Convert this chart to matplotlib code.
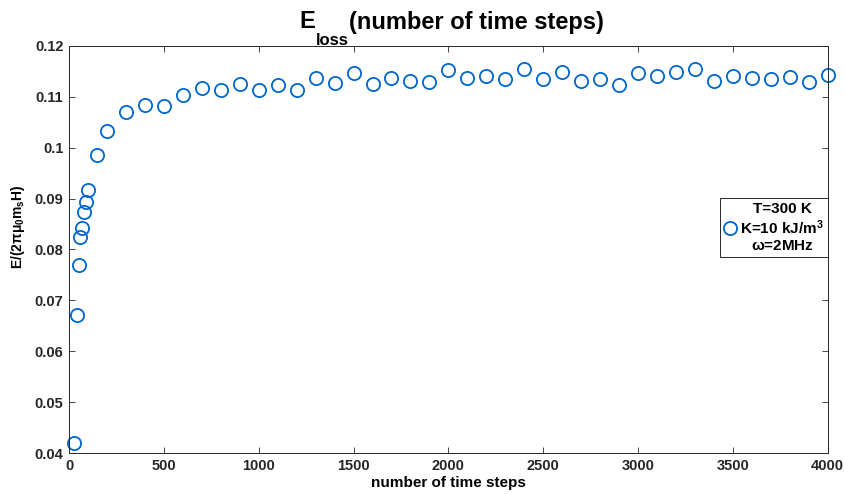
import numpy as np
import matplotlib
matplotlib.use('Agg')
import matplotlib.pyplot as plt
from matplotlib.transforms import offset_copy

plt.rcParams['font.family'] = ['Liberation Sans', 'DejaVu Sans']
plt.rcParams['font.weight'] = 'bold'
plt.rcParams['mathtext.fontset'] = 'custom'
plt.rcParams['mathtext.rm'] = 'Liberation Sans:bold'
plt.rcParams['mathtext.it'] = 'Liberation Sans:bold'
plt.rcParams['mathtext.bf'] = 'Liberation Sans:bold'

# number of time steps
steps = [25, 40, 50, 60, 70, 80, 90, 100, 150,
         200, 300, 400, 500, 600, 700, 800, 900, 1000,
         1100, 1200, 1300, 1400, 1500, 1600, 1700, 1800, 1900, 2000,
         2100, 2200, 2300, 2400, 2500, 2600, 2700, 2800, 2900, 3000,
         3100, 3200, 3300, 3400, 3500, 3600, 3700, 3800, 3900, 4000]
# normalised energy loss
e_loss = [0.0420, 0.0671, 0.0770, 0.0825, 0.0842, 0.0874, 0.0894, 0.0917, 0.0985,
          0.1033, 0.1069, 0.1083, 0.1082, 0.1103, 0.1116, 0.1114, 0.1125, 0.1114,
          0.1122, 0.1114, 0.1136, 0.1126, 0.1146, 0.1124, 0.1136, 0.1131, 0.1129, 0.1152,
          0.1136, 0.1141, 0.1135, 0.1155, 0.1134, 0.1148, 0.1131, 0.1135, 0.1123, 0.1146,
          0.1141, 0.1148, 0.1155, 0.1131, 0.1141, 0.1137, 0.1134, 0.1139, 0.1129, 0.1143]

xticks = [0, 500, 1000, 1500, 2000, 2500, 3000, 3500, 4000]
yticks = [0.04, 0.05, 0.06, 0.07, 0.08, 0.09, 0.1, 0.11, 0.12]
ytick_labels = ['0.04', '0.05', '0.06', '0.07', '0.08', '0.09', '0.1', '0.11', '0.12']

label = 'T=300 K\nK=10 kJ/m$^3$\n$\\omega$=2MHz'

fig = plt.figure(figsize=(8.44, 4.94), dpi=100)
ax = fig.add_axes([0.0818, 0.0824, 0.8989, 0.8251])

ax.plot(steps, e_loss, 'o', ls='none', mfc='none', mec='#0066CC',
        ms=9.5, mew=1.3, label=label, clip_on=False)

ax.set_xlim(0, 4000)
ax.set_ylim(0.04, 0.12)
ax.set_xticks(xticks)
ax.set_yticks(yticks)
ax.set_yticklabels(ytick_labels)
ax.tick_params(direction='in', top=True, right=True, length=4, width=0.6,
               labelsize=10.5, colors='#262626', pad=4)
for s in ax.spines.values():
    s.set_linewidth(0.7)
    s.set_color('#262626')

ax.set_xlabel('number of time steps', fontsize=11, fontweight='bold', labelpad=2)
ax.set_ylabel('E/(2$\\pi\\mu_0$m$_s$H)', fontsize=10, fontweight='bold')
ax.yaxis.set_label_coords(-0.055, 0.555)

# title built in pieces so the subscript sits low like the original
r = fig.canvas.get_renderer()
base_y = 1 - 28.5 / 494
t1 = fig.text(299 / 844, base_y, 'E', fontsize=17, fontweight='bold', va='baseline')
w1 = t1.get_window_extent(r).width
t2 = fig.text(299 / 844, base_y, 'loss', fontsize=12, fontweight='bold', va='baseline',
              transform=offset_copy(fig.transFigure, fig=fig, x=w1 + 1, y=-16.5,
                                    units='dots'))
w2 = t2.get_window_extent(r).width
t3 = fig.text(299 / 844, base_y, '(number of time steps)', fontsize=17,
              fontweight='bold', va='baseline',
              transform=offset_copy(fig.transFigure, fig=fig, x=w1 + w2 + 1, y=0,
                                    units='dots'))

leg = ax.legend(loc='center right', bbox_to_anchor=(1.0, 0.554), borderaxespad=0,
                fontsize=11, numpoints=1, handlelength=0.8, handletextpad=0.25,
                borderpad=0.25, labelspacing=0.3, fancybox=False, framealpha=1,
                edgecolor='#262626')
leg.get_frame().set_linewidth(0.7)
for t in leg.get_texts():
    t.set_multialignment('center')

plt.savefig('out.png', dpi=100)
